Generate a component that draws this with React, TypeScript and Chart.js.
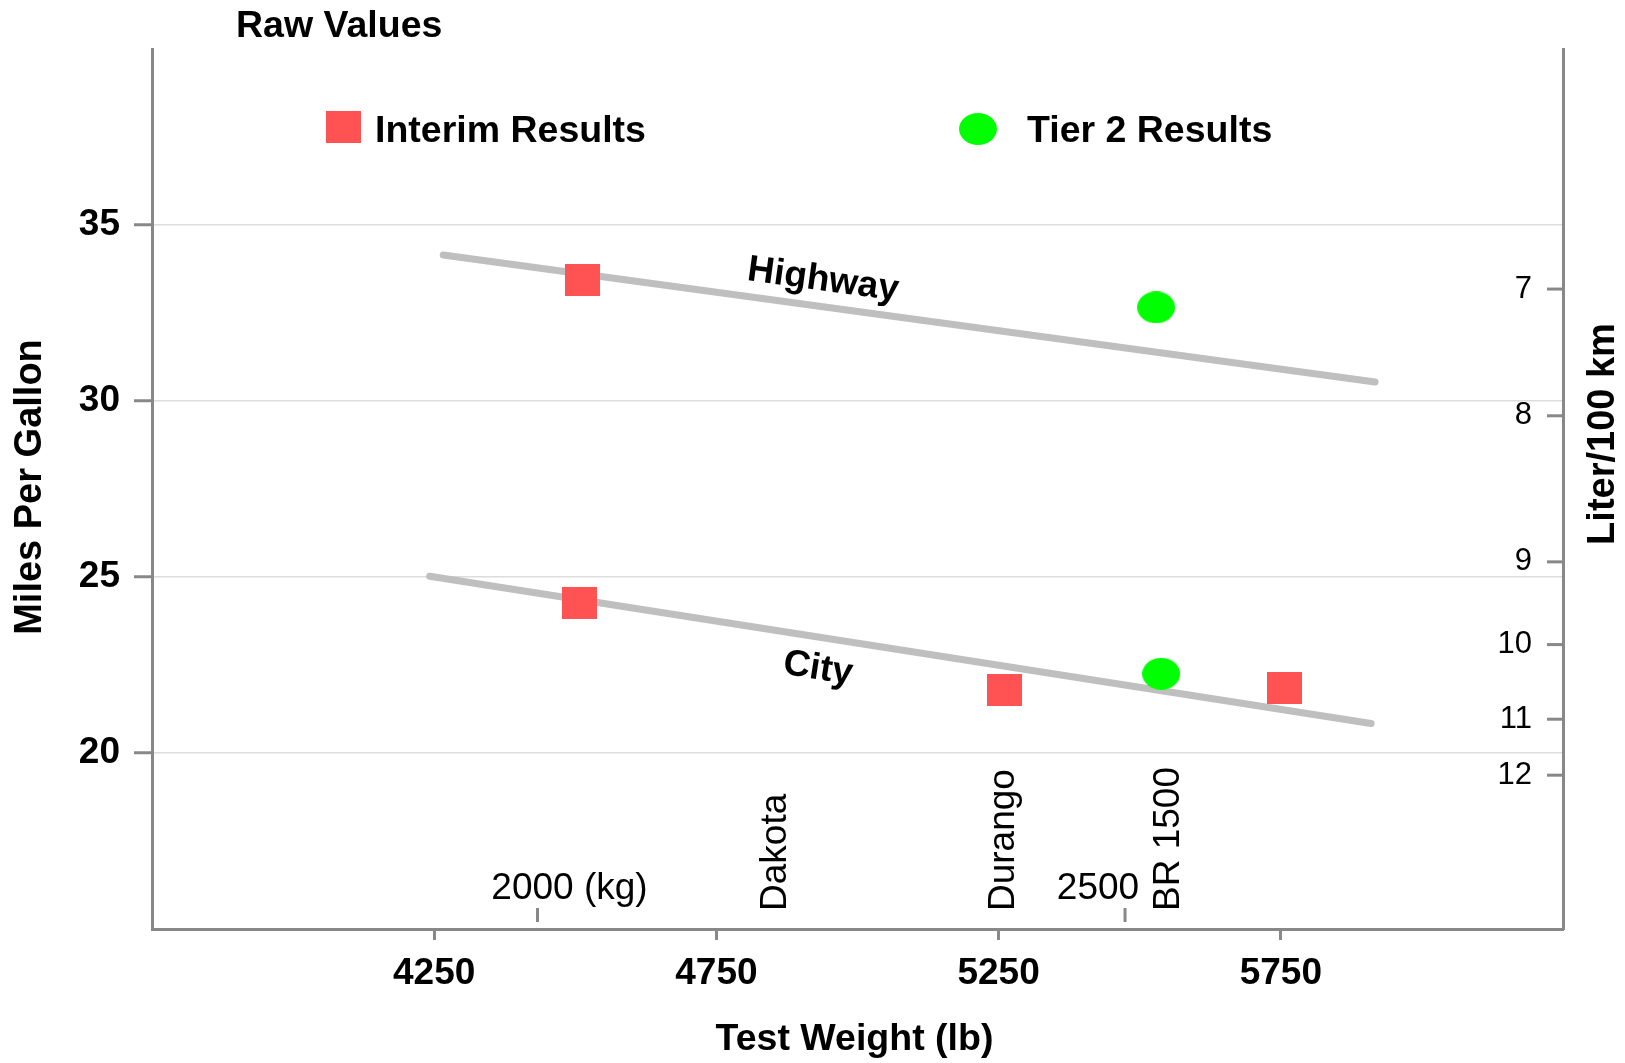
import React, { useEffect, useRef } from 'react';
import { Chart, registerables } from 'chart.js';

Chart.register(...registerables);

// ---- data ----
const xTicks = [4250, 4750, 5250, 5750];
const yTicks = [20, 25, 30, 35];
const literTickLabels = ['7', '8', '9', '10', '11', '12'];
const literTickMpg = [33.18, 29.58, 25.43, 23.08, 20.96, 19.37];

const interimWeight = [4512, 4507, 5260, 5757];
const interimMpg = [33.43, 24.25, 21.8, 21.84];
const tier2Weight = [5529, 5538];
const tier2Mpg = [32.66, 22.25];

const highwayTrendWeight = [4266, 5917];
const highwayTrendMpg = [34.15, 30.54];
const cityTrendWeight = [4242, 5910];
const cityTrendMpg = [25.02, 20.84];

const trendNames = ['Highway', 'City'];
const trendLabelWeight = [4939, 4930];
const trendLabelMpg = [33.43, 22.39];

const vehicleNames = ['Dakota', 'Durango', 'BR 1500'];
const vehicleWeight = [4855, 5259, 5551];

const kgTickLabels = ['2000 (kg)', '2500'];
const kgTickNumbers = ['2000', '2500'];
const kgTickWeight = [4433, 5474];

const legendLabels = ['Interim Results', 'Tier 2 Results'];

// ---- styling / layout constants ----
const FONT = '"Liberation Sans", Arial, Helvetica, sans-serif';
const AXIS_GRAY = '#888888';
const RED = '#ff5252';
const GREEN = '#00ff00';
const KG_LABEL_DX = [-5, -27];

function makeRect(w: number, h: number, color: string) {
  const c = document.createElement('canvas');
  c.width = w;
  c.height = h;
  const g = c.getContext('2d')!;
  g.fillStyle = color;
  g.fillRect(0, 0, w, h);
  return c;
}

function makeEllipse(w: number, h: number, color: string) {
  const c = document.createElement('canvas');
  c.width = w;
  c.height = h;
  const g = c.getContext('2d')!;
  g.fillStyle = color;
  g.beginPath();
  g.ellipse(w / 2, h / 2, w / 2, h / 2, 0, 0, Math.PI * 2);
  g.fill();
  return c;
}

export default function App() {
  const ref = useRef<HTMLCanvasElement | null>(null);

  useEffect(() => {
    if (!ref.current) return;
    Chart.defaults.font.family = FONT;

    const redMark = makeRect(35, 32, RED);
    const greenMark = makeEllipse(38, 32, GREEN);

    const overlay = {
      id: 'overlay',
      afterDraw(chart: any) {
        const ctx = chart.ctx as CanvasRenderingContext2D;
        const xs = chart.scales.x;
        const ys = chart.scales.y;
        const y2 = chart.scales.y2;
        const area = chart.chartArea;
        ctx.save();
        ctx.fillStyle = '#000';

        // title
        ctx.font = `bold 37.5px ${FONT}`;
        ctx.textAlign = 'left';
        ctx.textBaseline = 'alphabetic';
        ctx.fillText('Raw Values', 236, 37);

        // legend
        ctx.drawImage(redMark, 343 - redMark.width / 2, 127 - redMark.height / 2);
        ctx.fillText(legendLabels[0], 375, 142);
        ctx.drawImage(greenMark, 978 - greenMark.width / 2, 129 - greenMark.height / 2);
        ctx.fillText(legendLabels[1], 1027, 142);

        // bottom axis title
        ctx.textAlign = 'center';
        ctx.textBaseline = 'alphabetic';
        ctx.fillText('Test Weight (lb)', (area.left + area.right) / 2 - 3, 1050);

        // left axis title
        ctx.font = `bold 38px ${FONT}`;
        ctx.save();
        ctx.translate(31, (area.top + area.bottom) / 2 - 2);
        ctx.rotate(-Math.PI / 2);
        ctx.textAlign = 'center';
        ctx.textBaseline = 'middle';
        ctx.fillText('Miles Per Gallon', 0, 0);
        ctx.restore();

        // right axis title
        ctx.save();
        ctx.translate(1604, 434);
        ctx.rotate(-Math.PI / 2);
        ctx.textAlign = 'center';
        ctx.textBaseline = 'middle';
        ctx.fillText('Liter/100 km', 0, 0);
        ctx.restore();

        // right axis ticks (L/100 km)
        ctx.strokeStyle = AXIS_GRAY;
        ctx.lineWidth = 3;
        ctx.font = `31px ${FONT}`;
        ctx.textAlign = 'right';
        ctx.textBaseline = 'middle';
        literTickMpg.forEach((m, i) => {
          const py = y2.getPixelForValue(m);
          ctx.beginPath();
          ctx.moveTo(area.right - 16, py);
          ctx.lineTo(area.right, py);
          ctx.stroke();
          ctx.fillText(literTickLabels[i], area.right - 31, py);
        });

        // kg axis ticks inside plot
        ctx.font = `37px ${FONT}`;
        ctx.textAlign = 'left';
        ctx.textBaseline = 'alphabetic';
        kgTickWeight.forEach((w, i) => {
          const px = xs.getPixelForValue(w);
          ctx.beginPath();
          ctx.moveTo(px, area.bottom - 21);
          ctx.lineTo(px, area.bottom - 7);
          ctx.stroke();
          const numW = ctx.measureText(kgTickNumbers[i]).width;
          ctx.fillText(kgTickLabels[i], px + KG_LABEL_DX[i] - numW / 2, area.bottom - 30);
        });

        // vehicle names (rotated)
        vehicleWeight.forEach((w, i) => {
          const px = xs.getPixelForValue(w);
          ctx.save();
          ctx.translate(px, area.bottom - 18);
          ctx.rotate(-Math.PI / 2);
          ctx.textAlign = 'left';
          ctx.textBaseline = 'middle';
          ctx.fillText(vehicleNames[i], 0, 0);
          ctx.restore();
        });

        // trend line labels
        ctx.font = `bold 37px ${FONT}`;
        const trends = [
          [highwayTrendWeight, highwayTrendMpg],
          [cityTrendWeight, cityTrendMpg],
        ];
        trendNames.forEach((name, i) => {
          const [tw, tm] = trends[i];
          const x1 = xs.getPixelForValue(tw[0]);
          const x2 = xs.getPixelForValue(tw[1]);
          const yy1 = ys.getPixelForValue(tm[0]);
          const yy2 = ys.getPixelForValue(tm[1]);
          const ang = Math.atan2(yy2 - yy1, x2 - x1);
          ctx.save();
          ctx.translate(xs.getPixelForValue(trendLabelWeight[i]), ys.getPixelForValue(trendLabelMpg[i]));
          ctx.rotate(ang);
          ctx.textAlign = 'center';
          ctx.textBaseline = 'middle';
          ctx.fillText(name, 0, 0);
          ctx.restore();
        });

        ctx.restore();
      },
    };

    const toPts = (xsArr: number[], ysArr: number[]) => xsArr.map((x, i) => ({ x, y: ysArr[i] }));

    const chart = new Chart(ref.current, {
      type: 'scatter',
      data: {
        datasets: [
          {
            label: legendLabels[0],
            data: toPts(interimWeight, interimMpg),
            pointStyle: redMark as any,
            pointRadius: 18,
            pointHoverRadius: 18,
          },
          {
            label: legendLabels[1],
            data: toPts(tier2Weight, tier2Mpg),
            pointStyle: greenMark as any,
            pointRadius: 18,
            pointHoverRadius: 18,
          },
          {
            label: trendNames[0],
            data: toPts(highwayTrendWeight, highwayTrendMpg),
            showLine: true,
            borderColor: '#bfbfbf',
            borderWidth: 7,
            borderCapStyle: 'round',
            pointRadius: 0,
            pointHoverRadius: 0,
          },
          {
            label: trendNames[1],
            data: toPts(cityTrendWeight, cityTrendMpg),
            showLine: true,
            borderColor: '#bfbfbf',
            borderWidth: 7,
            borderCapStyle: 'round',
            pointRadius: 0,
            pointHoverRadius: 0,
          },
        ],
      },
      options: {
        responsive: false,
        animation: false,
        devicePixelRatio: 1,
        layout: { padding: { top: 49, left: 0, right: 0, bottom: 0 } },
        plugins: { legend: { display: false }, tooltip: { enabled: false }, title: { display: false } },
        events: [],
        scales: {
          x: {
            type: 'linear',
            position: 'bottom',
            min: 3750,
            max: 6250,
            afterBuildTicks: (s: any) => {
              s.ticks = xTicks.map((v) => ({ value: v }));
            },
            afterFit: (s: any) => {
              s.height = 134;
            },
            grid: { drawOnChartArea: false, drawTicks: true, tickLength: 11, tickColor: AXIS_GRAY, tickWidth: 3 },
            border: { display: true, color: AXIS_GRAY, width: 3 },
            ticks: {
              color: '#000',
              font: { size: 37, weight: 'bold', family: FONT },
              padding: 12,
              maxRotation: 0,
              autoSkip: false,
              callback: (v: any) => String(v),
            },
          },
          y: {
            type: 'linear',
            position: 'left',
            min: 15,
            max: 40,
            afterBuildTicks: (s: any) => {
              s.ticks = yTicks.map((v) => ({ value: v }));
            },
            afterFit: (s: any) => {
              s.width = 152;
            },
            grid: { color: '#dcdcdc', lineWidth: 1.5, drawTicks: true, tickLength: 18, tickColor: AXIS_GRAY, tickWidth: 3 },
            border: { display: true, color: AXIS_GRAY, width: 3 },
            ticks: { color: '#000', font: { size: 37, weight: 'bold', family: FONT }, padding: 14 },
          },
          y2: {
            type: 'linear',
            position: 'right',
            min: 15,
            max: 40,
            afterFit: (s: any) => {
              s.width = 62;
            },
            grid: { display: false, drawOnChartArea: false },
            border: { display: true, color: AXIS_GRAY, width: 3 },
            ticks: { display: false },
          },
        },
      } as any,
      plugins: [overlay],
    });

    return () => chart.destroy();
  }, []);

  return (
    <div style={{ position: 'absolute', left: 0, top: 0, width: 1625, height: 1063, background: '#fff' }}>
      <canvas ref={ref} width={1625} height={1063} style={{ width: 1625, height: 1063, display: 'block' }} />
    </div>
  );
}
